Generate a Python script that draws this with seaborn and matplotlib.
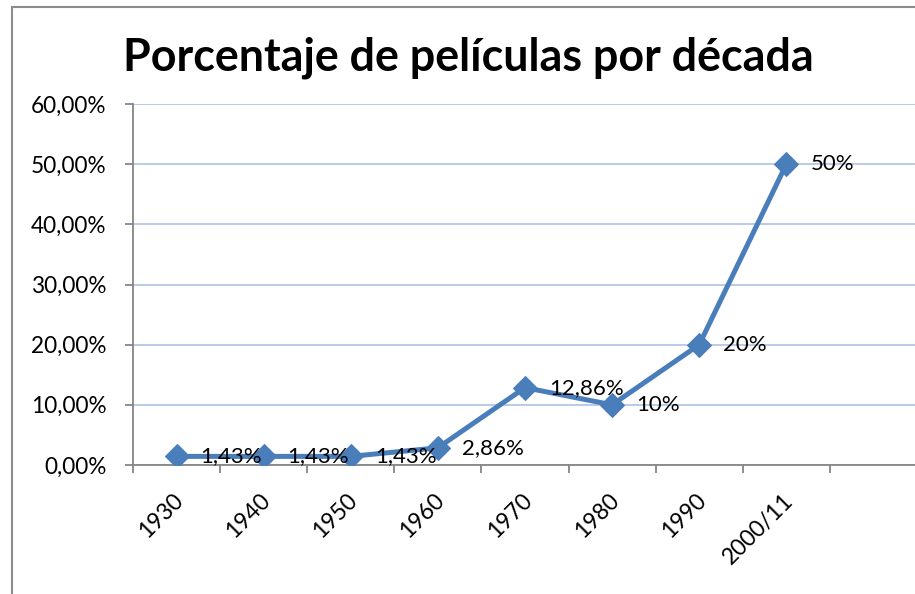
import matplotlib
matplotlib.use("Agg")
import matplotlib.pyplot as plt
import matplotlib.patches as mpatches
import matplotlib.transforms as mtransforms
from matplotlib.ticker import FuncFormatter, FixedLocator
import seaborn as sns
import pandas as pd

decades = ["1930", "1940", "1950", "1960", "1970", "1980", "1990", "2000/11"]
percent = [1.43, 1.43, 1.43, 2.86, 12.86, 10, 20, 50]
point_labels = ["1,43%", "1,43%", "1,43%", "2,86%", "12,86%", "10%", "20%", "50%"]
title = "Porcentaje de películas por década"

sns.set_theme(style="white")
plt.rcParams["font.family"] = ["Lato", "DejaVu Sans"]
plt.rcParams["text.color"] = "black"

df = pd.DataFrame({"decade": decades, "percent": percent})

W, H = 915, 594
fig = plt.figure(figsize=(W / 100, H / 100), dpi=100)
ax = fig.add_axes([133 / W, 1 - 465 / H, (917 - 133) / W, (465 - 104) / H])

blue = "#4A7EBB"
sns.lineplot(data=df, x="decade", y="percent", ax=ax, color=blue, linewidth=3.6,
             marker="D", markersize=12.5, markeredgecolor=blue, sort=False, zorder=3)

ax.set_xlim(-0.5, 8.5)
ax.set_ylim(0, 60)
ax.set_yticks(range(0, 61, 10))
ax.yaxis.set_major_formatter(FuncFormatter(lambda v, p: f"{v:.2f}".replace(".", ",") + "%"))
ax.grid(axis="y", color="#B3C7E6", linewidth=1.3)
ax.set_axisbelow(True)

ax.set_xticks(range(len(decades)))
ax.set_xticklabels(decades, rotation=45, ha="right", va="top", rotation_mode="anchor")
ax.xaxis.set_minor_locator(FixedLocator([i - 0.5 for i in range(10)]))
ax.tick_params(axis="x", which="major", length=0, pad=18, labelsize=16.5, labelcolor="black")
ax.tick_params(axis="x", which="minor", length=6, width=1.3, color="#868686", direction="out", bottom=True)
ax.tick_params(axis="y", which="major", length=6, width=1.3, color="#868686", direction="out",
               left=True, labelsize=16.3, pad=13, labelcolor="black")
for lab in ax.get_xticklabels():
    lab.set_transform(lab.get_transform() + mtransforms.ScaledTranslation(-4 / 100, 0, fig.dpi_scale_trans))

for s in ["top", "right"]:
    ax.spines[s].set_visible(False)
for s in ["left", "bottom"]:
    ax.spines[s].set_color("#868686")
    ax.spines[s].set_linewidth(1.3)

ax.set_xlabel("")
ax.set_ylabel("")

for i, (v, t) in enumerate(zip(percent, point_labels)):
    ax.annotate(t, xy=(i, v), xytext=(24, 0), textcoords="offset pixels",
                ha="left", va="center", fontsize=16, color="black", zorder=4)

fig.text(468 / W, 1 - 58 / H, title, ha="center", va="center", fontsize=32.3,
         fontweight="bold", color="black")

fig.patches.append(mpatches.Rectangle((12 / W, -0.5), 2, 1.5 - 7 / H, transform=fig.transFigure,
                                      fill=False, edgecolor="#8C8C8C", linewidth=1.5))

fig.savefig("out.png", dpi=100)
